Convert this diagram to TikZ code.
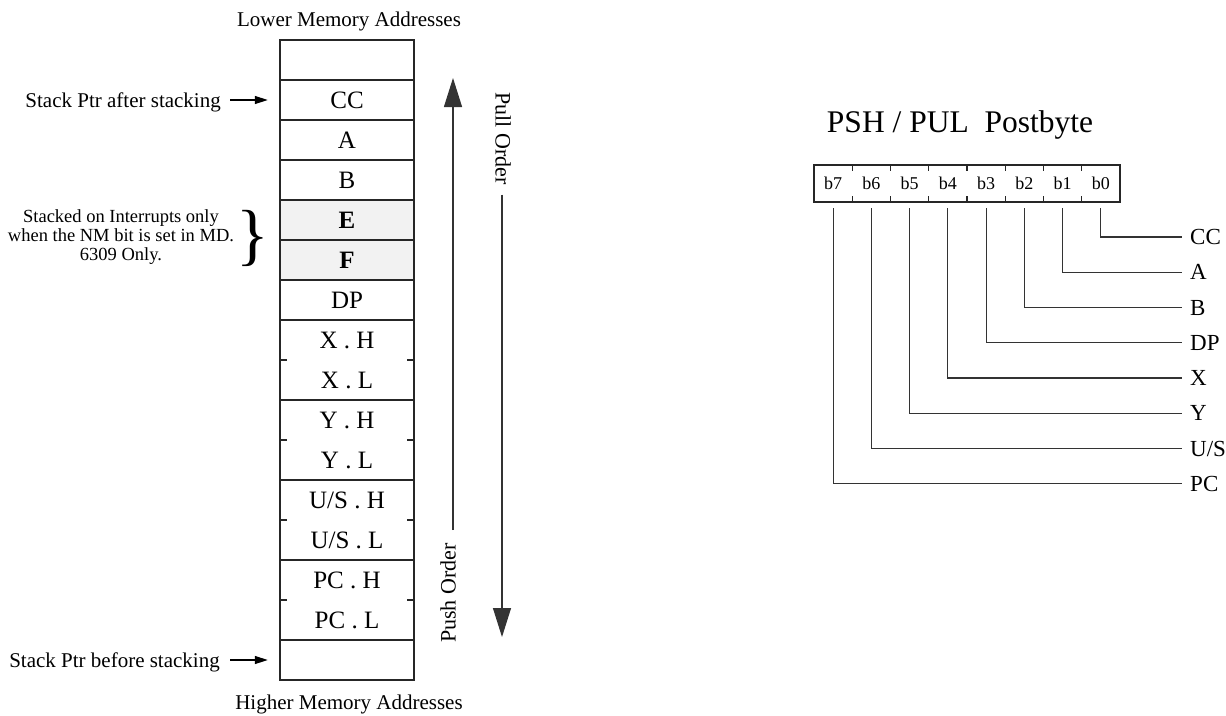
\documentclass[tikz,border=0pt]{standalone}
\usepackage{fontspec}
\setmainfont{Liberation Serif}
\usetikzlibrary{arrows.meta}
\begin{document}
\begin{tikzpicture}[x=1pt,y=-1pt,
  boxline/.style={line width=1.8pt, black!85},
  tickline/.style={line width=1.4pt, black!85},
  celltxt/.style={font=\fontsize{25}{25}\selectfont, inner sep=0pt, minimum width=134pt, minimum height=40pt, text height=16.5pt, text depth=0pt},
  lbl/.style={font=\fontsize{21}{21}\selectfont, inner sep=0pt, text height=14pt, text depth=0pt},
  note/.style={font=\fontsize{18.5}{19}\selectfont, inner sep=0pt, align=center},
  ordertxt/.style={font=\fontsize{22}{22}\selectfont, inner sep=0pt, text height=15pt, text depth=0pt},
  ptr/.style={line width=1.2pt, -{Triangle[length=13pt,width=8pt]}},
  bigarrow/.style={line width=1.2pt, black!80, -{Triangle[length=29pt,width=18pt]}},
  bittxt/.style={font=\fontsize{18}{18}\selectfont, inner sep=0pt, minimum width=38.25pt, minimum height=37pt, text height=12pt, text depth=0pt},
  reglbl/.style={font=\fontsize{23}{23}\selectfont, inner sep=0pt, text height=15pt, text depth=0pt, anchor=west},
  leader/.style={line width=1.2pt, black!80},
]
\useasboundingbox (0,0) rectangle (1226,715);

% ---------------- stack ----------------
\fill[gray!10] (280,200) rectangle (414,280);
\draw[boxline] (280,40) rectangle (414,680);
\foreach \yy in {80,120,160,200,240,280,320,400,480,560,640}
  \draw[boxline] (280,\yy) -- (414,\yy);
\foreach \yy in {360,440,520,600} {
  \draw[tickline] (280,\yy) -- (287,\yy);
  \draw[tickline] (414,\yy) -- (407,\yy);
}

\node[celltxt] (top) at (347,60) {};
\node[celltxt] (cc) at (347,100) {CC};
\node[celltxt] (ra) at (347,140) {A};
\node[celltxt] (rb) at (347,180) {B};
\node[celltxt] (re) at (347,220) {\textbf{E}};
\node[celltxt] (rf) at (347,260) {\textbf{F}};
\node[celltxt] (dp) at (347,300) {DP};
\node[celltxt] (xh) at (347,340) {X . H};
\node[celltxt] (xl) at (347,380) {X . L};
\node[celltxt] (yh) at (347,420) {Y . H};
\node[celltxt] (yl) at (347,460) {Y . L};
\node[celltxt] (uh) at (347,500) {U/S . H};
\node[celltxt] (ul) at (347,540) {U/S . L};
\node[celltxt] (ph) at (347,580) {PC . H};
\node[celltxt] (pl) at (347,620) {PC . L};
\node[celltxt] (bot) at (347,660) {};

\node[lbl] (lower) at (349,19) {Lower Memory Addresses};
\node[lbl] (higher) at (349,702) {Higher Memory Addresses};

\node[lbl, anchor=east] (after) at (221,100) {Stack Ptr after stacking};
\node[lbl, anchor=east] (before) at (220,660) {Stack Ptr before stacking};
\draw[ptr] ([xshift=9pt]after.east) -- ([xshift=-12pt]cc.west);
\draw[ptr] ([xshift=10pt]before.east) -- ([xshift=-12pt]bot.west);

\node[note] (nt) at (121,237) {Stacked on Interrupts only\\when the NM bit is set in MD.\\6309 Only.};
\node[inner sep=0pt, font=\fontsize{68}{68}\selectfont] (brace) at (253,238) {\}};

% order arrows
\coordinate (pushtop) at (453,78);
\node[ordertxt, rotate=90, anchor=east] (push) at (448,543) {Push Order};
\draw[bigarrow] ([yshift=13pt]push.east -| pushtop) -- (pushtop);

\coordinate (pullbot) at (502,637);
\node[ordertxt, rotate=-90, anchor=west] (pull) at (503,92) {Pull Order};
\draw[bigarrow] ([yshift=-10pt]pull.east -| pullbot) -- (pullbot);

% ---------------- postbyte ----------------
\node[font=\fontsize{31.5}{31.5}\selectfont, inner sep=0pt] (title) at (960,125) {PSH / PUL~~Postbyte};
\draw[boxline] (814,165) rectangle (1120,202);
\foreach \i in {1,...,7} {
  \draw[tickline] (814+38.25*\i,165) -- (814+38.25*\i,171);
  \draw[tickline] (814+38.25*\i,202) -- (814+38.25*\i,196);
}
\foreach \k in {0,...,7}
  \node[bittxt] (bit\k) at (814+38.25*7.5-38.25*\k,183.5) {b\k};

\foreach \k/\t in {0/CC,1/A,2/B,3/DP,4/X,5/Y,6/U\slash S,7/PC}
  \node[reglbl] (reg\k) at (1190,237+35.25*\k) {\t};

\foreach \k in {0,...,7}
  \draw[leader] ([yshift=-6pt]bit\k.south) |- ([xshift=-8pt]reg\k.west);
\end{tikzpicture}
\end{document}
